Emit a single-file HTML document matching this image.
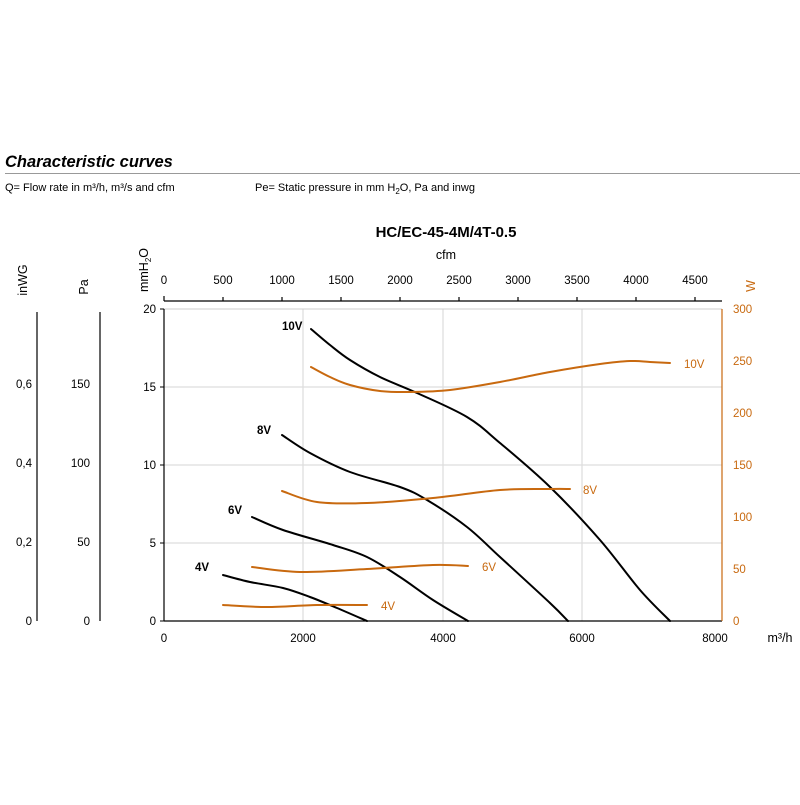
<!DOCTYPE html>
<html><head><meta charset="utf-8"><style>
body{margin:0;background:#fff;width:800px;height:800px;overflow:hidden}
svg{font-family:"Liberation Sans",sans-serif}
</style></head><body>
<svg id="s" width="800" height="800" viewBox="0 0 800 800">
<text x="5" y="167" font-size="16.5" font-weight="bold" font-style="italic">Characteristic curves</text>
<line x1="5" y1="173.5" x2="800" y2="173.5" stroke="#999" stroke-width="1"/>
<text x="5" y="191" font-size="11">Q= Flow rate in m³/h, m³/s and cfm</text>
<text x="255" y="191" font-size="11">Pe= Static pressure in mm H<tspan font-size="8" dy="3">2</tspan><tspan dy="-3">O, Pa and inwg</tspan></text>
<text x="446" y="237" font-size="15" font-weight="bold" text-anchor="middle">HC/EC-45-4M/4T-0.5</text>
<text x="446" y="259" font-size="12.5" text-anchor="middle">cfm</text>
<g font-size="11.5" text-anchor="middle">
<text x="164" y="284">0</text><text x="223" y="284">500</text><text x="282" y="284">1000</text><text x="341" y="284">1500</text><text x="400" y="284">2000</text><text x="459" y="284">2500</text><text x="518" y="284">3000</text><text x="577" y="284">3500</text><text x="636" y="284">4000</text><text x="695" y="284">4500</text>
</g>
<g stroke="#000" stroke-width="1.2">
<line x1="164" y1="301" x2="722" y2="301"/>
<line x1="164" y1="296" x2="164" y2="301"/><line x1="223" y1="297" x2="223" y2="301"/><line x1="282" y1="297" x2="282" y2="301"/><line x1="341" y1="297" x2="341" y2="301"/><line x1="400" y1="297" x2="400" y2="301"/><line x1="459" y1="297" x2="459" y2="301"/><line x1="518" y1="297" x2="518" y2="301"/><line x1="577" y1="297" x2="577" y2="301"/><line x1="636" y1="297" x2="636" y2="301"/><line x1="695" y1="297" x2="695" y2="301"/>
</g>
<g stroke="#ddd" stroke-width="1.2">
<line x1="303" y1="309" x2="303" y2="621"/><line x1="443" y1="309" x2="443" y2="621"/><line x1="582" y1="309" x2="582" y2="621"/>
<line x1="164" y1="387" x2="722" y2="387"/><line x1="164" y1="465" x2="722" y2="465"/><line x1="164" y1="543" x2="722" y2="543"/>
</g>
<line x1="164" y1="309" x2="722" y2="309" stroke="#ccc"/>
<line x1="164" y1="309" x2="164" y2="621" stroke="#000" stroke-width="1.2"/>
<line x1="164" y1="621" x2="722" y2="621" stroke="#000" stroke-width="1.2"/>
<line x1="722" y1="309" x2="722" y2="621" stroke="#c8690f" stroke-width="1.2"/>
<g stroke="#000"><line x1="160" y1="309" x2="164" y2="309"/><line x1="160" y1="387" x2="164" y2="387"/><line x1="160" y1="465" x2="164" y2="465"/><line x1="160" y1="543" x2="164" y2="543"/><line x1="160" y1="621" x2="164" y2="621"/></g>
<g font-size="11.5" text-anchor="end">
<text x="156" y="313">20</text><text x="156" y="391">15</text><text x="156" y="469">10</text><text x="156" y="547">5</text><text x="156" y="625">0</text>
</g>
<g font-size="11.5" text-anchor="middle">
<text x="164" y="642">0</text><text x="303" y="642">2000</text><text x="443" y="642">4000</text><text x="582" y="642">6000</text><text x="715" y="642">8000</text>
</g>
<text x="780" y="642" font-size="12.5" text-anchor="middle">m³/h</text>
<g font-size="11.5" fill="#c8690f">
<text x="733" y="313">300</text><text x="733" y="365">250</text><text x="733" y="417">200</text><text x="733" y="469">150</text><text x="733" y="521">100</text><text x="733" y="573">50</text><text x="733" y="625">0</text>
</g>
<text transform="translate(755,286) rotate(-90)" font-size="12.5" fill="#c8690f" text-anchor="middle">W</text>
<text transform="translate(148,270) rotate(-90)" font-size="12.5" text-anchor="middle">mmH<tspan font-size="8" dy="3">2</tspan><tspan dy="-3">O</tspan></text>
<text transform="translate(27,280) rotate(-90)" font-size="12.5" text-anchor="middle">inWG</text>
<text transform="translate(88,287) rotate(-90)" font-size="12.5" text-anchor="middle">Pa</text>
<line x1="37" y1="312" x2="37" y2="621" stroke="#000" stroke-width="1.2"/>
<line x1="100" y1="312" x2="100" y2="621" stroke="#000" stroke-width="1.2"/>
<g font-size="11.5" text-anchor="end">
<text x="32" y="388">0,6</text><text x="32" y="467">0,4</text><text x="32" y="546">0,2</text><text x="32" y="625">0</text>
<text x="90" y="388">150</text><text x="90" y="467">100</text><text x="90" y="546">50</text><text x="90" y="625">0</text>
</g>
<g id="curves" fill="none" stroke-width="2" stroke-linejoin="round" stroke-linecap="round">
<polyline stroke="#000" points="311,329 330,345 350,360 380,377 417,393 467,417 500,443 550,487 600,540 640,590 670,621"/>
<polyline stroke="#000" points="282,435 310,453 350,472 400,487 427,500 467,527 500,557 550,603 568,621"/>
<polyline stroke="#000" points="252,517 283,530 333,545 367,557 400,577 433,600 468,621"/>
<polyline stroke="#000" points="223,575 250,582 283,588 310,597 337,608 367,621"/>
<polyline stroke="#c8690f" points="311,367 330,377 350,385 380,391 410,392 450,390 500,382 550,372 600,364 630,361 650,362 670,363"/>
<polyline stroke="#c8690f" points="282,491 317,502 367,503 433,498 500,490 550,489 570,489"/>
<polyline stroke="#c8690f" points="252,567 300,572 367,569 433,565 468,566"/>
<polyline stroke="#c8690f" points="223,605 267,607 317,605 367,605"/>
</g>
<g font-size="11.5" font-weight="bold">
<text x="282" y="330">10V</text><text x="257" y="434">8V</text><text x="228" y="514">6V</text><text x="195" y="571">4V</text>
</g>
<g font-size="11.5" fill="#c8690f">
<text x="684" y="368">10V</text><text x="583" y="494">8V</text><text x="482" y="571">6V</text><text x="381" y="610">4V</text>
</g>
</svg>
<script>
document.querySelectorAll('#curves polyline').forEach(function(pl){
  var p=pl.getAttribute('points').trim().split(/\s+/).map(function(s){return s.split(',').map(Number);});
  var d='M'+p[0][0]+','+p[0][1];
  for(var i=0;i<p.length-1;i++){
    var p0=p[i-1]||p[i],p1=p[i],p2=p[i+1],p3=p[i+2]||p2;
    var c1=[p1[0]+(p2[0]-p0[0])/6,p1[1]+(p2[1]-p0[1])/6];
    var c2=[p2[0]-(p3[0]-p1[0])/6,p2[1]-(p3[1]-p1[1])/6];
    d+=' C'+c1[0]+','+c1[1]+' '+c2[0]+','+c2[1]+' '+p2[0]+','+p2[1];
  }
  var path=document.createElementNS('http://www.w3.org/2000/svg','path');
  path.setAttribute('d',d);path.setAttribute('stroke',pl.getAttribute('stroke'));
  pl.parentNode.replaceChild(path,pl);
});
</script>
</body></html>
